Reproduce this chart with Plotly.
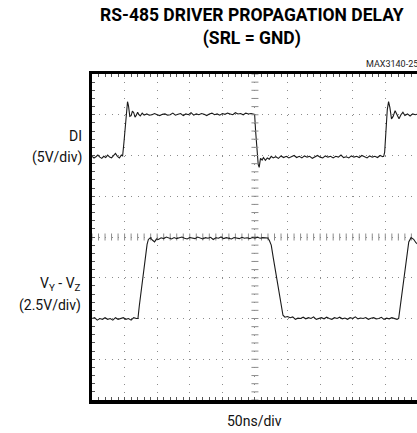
import numpy as np
import plotly.graph_objects as go

# ---------------- data ----------------
TIME_PER_DIV_NS = 50
DI_V_PER_DIV = 5.0
VYZ_V_PER_DIV = 2.5

DI_TIME_NS = [
    0, 3, 6, 9, 12, 15, 18, 21, 24, 27,
    30, 33, 36, 39, 42, 45, 47, 49, 51, 53,
    54.5, 56, 58, 60, 62, 64, 66, 68, 70, 72,
    74, 77, 80, 84, 88, 92, 96, 100, 104, 108,
    112, 116, 120, 124, 128, 132, 136, 140, 144, 148,
    152, 156, 160, 164, 168, 172, 176, 180, 184, 188,
    192, 196, 200, 204, 208, 212, 216, 220, 224, 228,
    232, 236, 240, 244, 248, 249.5, 251, 253, 255, 256.5,
    258.5, 261, 263, 266, 269, 272, 275, 278, 282, 286,
    290, 294, 298, 302, 306, 310, 314, 318, 322, 326,
    330, 334, 338, 342, 346, 350, 354, 358, 362, 366,
    370, 374, 378, 382, 386, 390, 394, 398, 402, 406,
    410, 414, 418, 422, 426, 430, 434, 438, 442, 446,
    447.5, 449, 451, 453, 455, 457, 459.5, 462, 465, 468,
    471, 474, 477, 480, 484, 488, 492, 496, 500,
]
DI_VOLTS = [
    -0.1, -0.3, -0.15, 0.05, -0.2, -0.35, -0.1, -0.25, 0.05, -0.2,
    -0.3, 0.0, 0.25, -0.1, -0.3, 0.05, -0.05, 1.6, 3.6, 5.6,
    6.6, 6.1, 4.8, 4.9, 5.45, 5.25, 4.7, 4.95, 5.3, 5.0,
    4.85, 5.2, 4.95, 5.1, 4.95, 5.0, 5.15, 5.0, 4.9, 5.05,
    5.1, 4.95, 5.0, 5.2, 4.95, 5.05, 5.15, 4.9, 5.1, 5.0,
    5.25, 4.95, 5.1, 5.0, 5.15, 5.05, 4.9, 5.1, 5.2, 5.0,
    5.1, 4.95, 5.15, 5.05, 5.2, 5.1, 5.0, 5.25, 5.1, 5.15,
    5.0, 5.2, 5.1, 5.15, 5.1, 5.05, 3.0, 0.6, -1.1, -1.45,
    -0.35, -0.55, -0.25, -0.6, -0.3, -0.45, -0.1, -0.3, -0.15, -0.35,
    -0.05, -0.25, -0.1, -0.3, -0.15, 0.0, -0.25, -0.1, -0.3, -0.05,
    -0.2, -0.1, -0.35, -0.15, 0.0, -0.2, -0.3, -0.05, -0.2, -0.1,
    -0.3, -0.1, -0.2, 0.05, -0.25, -0.15, -0.3, -0.05, -0.2, -0.1,
    -0.25, 0.0, -0.15, -0.3, -0.05, -0.2, -0.1, -0.25, 0.0, -0.15,
    -0.1, 0.4, 3.0, 5.6, 6.6, 5.9, 4.5, 4.8, 5.5, 5.0,
    4.5, 5.0, 5.3, 4.9, 5.1, 4.85, 5.1, 5.0, 5.1,
]

VYZ_TIME_NS = [
    0, 4, 8, 12, 16, 20, 24, 28, 32, 36,
    40, 44, 48, 52, 56, 60, 64, 68, 70.5, 72.5,
    74.5, 77, 79.5, 82, 84.5, 86.5, 89.5, 93, 96, 99,
    102, 106, 110, 114, 118, 122, 126, 130, 134, 138,
    142, 146, 150, 154, 158, 162, 166, 170, 174, 178,
    182, 186, 190, 194, 198, 202, 206, 210, 214, 218,
    222, 226, 230, 234, 238, 242, 246, 250, 254, 258,
    262, 266, 269.5, 272, 275, 278, 281, 284, 287, 290,
    293, 296, 300, 304, 308, 312, 316, 320, 324, 328,
    332, 336, 340, 344, 348, 352, 356, 360, 364, 368,
    372, 376, 380, 384, 388, 392, 396, 400, 404, 408,
    412, 416, 420, 424, 428, 432, 436, 440, 444, 448,
    452, 456, 460, 464, 468, 470.5, 473, 475.5, 478, 480.5,
    483, 486, 489.5, 493.5, 497, 500,
]
VYZ_VOLTS = [
    -2.5, -2.45, -2.6, -2.5, -2.55, -2.45, -2.55, -2.5, -2.6, -2.45,
    -2.55, -2.5, -2.45, -2.55, -2.5, -2.6, -2.45, -2.5, -2.5, -1.75,
    -1.1, -0.35, 0.45, 1.35, 2.05, 2.35, 2.45, 2.3, 2.2, 2.38,
    2.35, 2.45, 2.4, 2.5, 2.42, 2.38, 2.47, 2.4, 2.45, 2.5,
    2.42, 2.38, 2.47, 2.44, 2.4, 2.5, 2.43, 2.38, 2.46, 2.42,
    2.48, 2.35, 2.45, 2.42, 2.5, 2.4, 2.46, 2.43, 2.38, 2.47,
    2.44, 2.4, 2.48, 2.42, 2.45, 2.4, 2.47, 2.43, 2.48, 2.42,
    2.46, 2.45, 2.44, 2.3, 2.0, 1.25, 0.5, -0.25, -1.0, -1.75,
    -2.3, -2.42, -2.38, -2.45, -2.4, -2.55, -2.48, -2.5, -2.42, -2.52,
    -2.45, -2.5, -2.4, -2.55, -2.48, -2.45, -2.52, -2.42, -2.5, -2.55,
    -2.45, -2.5, -2.42, -2.52, -2.47, -2.55, -2.45, -2.5, -2.4, -2.52,
    -2.47, -2.5, -2.44, -2.55, -2.48, -2.45, -2.52, -2.5, -2.43, -2.55,
    -2.48, -2.52, -2.45, -2.5, -2.55, -2.5, -1.7, -0.9, -0.37, 0.6,
    1.6, 2.2, 2.46, 2.36, 2.15, 2.05,
]

assert len(DI_TIME_NS) == len(DI_VOLTS)
assert len(VYZ_TIME_NS) == len(VYZ_VOLTS)

TITLE = "<b>RS-485 DRIVER PROPAGATION DELAY</b><br><b>(SRL = GND)</b>"
CODE = "MAX3140-25"
X_LABEL = "50ns/div"

# ---------------- figure ----------------
W, H = 417, 433
ML, MR, MT, MB = 92, 0, 74, 33
PW, PH = W - ML - MR, H - MT - MB
PX_PER_DIV_X = 32.59
X_MAX = PW / PX_PER_DIV_X * TIME_PER_DIV_NS

NARROW = "Liberation Sans Narrow, Roboto, Liberation Sans, sans-serif"
TRACE_COLOR = "#1a1a1a"
GRID_COLOR = "#8c8c8c"

fig = go.Figure()

# DI trace: 5 V/div, 0 V on the 6th division (y axis 1 range -30..10 V)
fig.add_trace(go.Scatter(x=DI_TIME_NS, y=DI_VOLTS, mode="lines",
                         line=dict(color=TRACE_COLOR, width=1.1),
                         yaxis="y", hoverinfo="skip"))
# VY-VZ trace: 2.5 V/div, 0 V on the 3rd division (y axis 2 range -7.5..12.5 V)
fig.add_trace(go.Scatter(x=VYZ_TIME_NS, y=VYZ_VOLTS, mode="lines",
                         line=dict(color=TRACE_COLOR, width=1.1),
                         yaxis="y2", hoverinfo="skip"))

# graticule centre-line minor ticks
y_center = -30 + 4 * DI_V_PER_DIV
xt = np.arange(0, 10 * TIME_PER_DIV_NS + 1, TIME_PER_DIV_NS / 5)
yt = np.arange(-30, 10 + 0.01, DI_V_PER_DIV / 5)
fig.add_trace(go.Scatter(x=xt, y=[y_center] * len(xt), mode="markers",
                         marker=dict(symbol="line-ns", size=5,
                                     line=dict(color=GRID_COLOR, width=1)),
                         hoverinfo="skip", yaxis="y"))
fig.add_trace(go.Scatter(x=[5 * TIME_PER_DIV_NS] * len(yt), y=yt, mode="markers",
                         marker=dict(symbol="line-ew", size=5,
                                     line=dict(color=GRID_COLOR, width=1)),
                         hoverinfo="skip", yaxis="y"))

fig.update_layout(
    width=W, height=H,
    margin=dict(l=ML, r=MR, t=MT, b=MB),
    paper_bgcolor="white", plot_bgcolor="white",
    showlegend=False,
    xaxis=dict(range=[0, X_MAX], dtick=TIME_PER_DIV_NS, tick0=0,
               showgrid=True, gridcolor=GRID_COLOR, gridwidth=1,
               griddash="1px,7.15px",
               showline=True, linecolor="black", linewidth=3.5,
               mirror="ticks", ticks="inside", ticklen=3, tickcolor="#555",
               minor=dict(dtick=TIME_PER_DIV_NS / 5, ticks="inside", ticklen=3,
                          tickcolor="#555", showgrid=False),
               showticklabels=False, zeroline=False, fixedrange=True),
    yaxis=dict(range=[-30, 10], dtick=DI_V_PER_DIV, tick0=0,
               showgrid=True, gridcolor=GRID_COLOR, gridwidth=1,
               griddash="1px,5.52px",
               showline=True, linecolor="black", linewidth=3.5,
               mirror=False, ticks="inside", ticklen=3, tickcolor="#555",
               minor=dict(dtick=DI_V_PER_DIV / 5, ticks="inside", ticklen=3,
                          tickcolor="#555", showgrid=False),
               showticklabels=False, zeroline=False, fixedrange=True),
    yaxis2=dict(range=[-7.5, 12.5], overlaying="y", visible=False,
                showgrid=False, zeroline=False, fixedrange=True),
)


def px_x(px):
    return (px - ML) / PW


def px_y(py):
    return (H - MB - py) / PH


ann = [
    dict(text=TITLE, x=px_x(252), y=px_y(27), xanchor="center", yanchor="middle",
         font=dict(family=NARROW, size=17.5, color="black"), align="center"),
    dict(text=CODE, x=px_x(364), y=px_y(64), xanchor="left", yanchor="middle",
         font=dict(family=NARROW, size=9, color="#222")),
    dict(text="DI", x=px_x(84), y=px_y(136), xanchor="right", yanchor="middle",
         font=dict(family=NARROW, size=14, color="#111")),
    dict(text="(5V/div)", x=px_x(84), y=px_y(157), xanchor="right", yanchor="middle",
         font=dict(family=NARROW, size=14, color="#111")),
    dict(text="V<sub>Y</sub> - V<sub>Z</sub>", x=px_x(83), y=px_y(284),
         xanchor="right", yanchor="middle",
         font=dict(family=NARROW, size=14, color="#111")),
    dict(text="(2.5V/div)", x=px_x(83), y=px_y(305), xanchor="right", yanchor="middle",
         font=dict(family=NARROW, size=14, color="#111")),
    dict(text=X_LABEL, x=px_x(255), y=px_y(421), xanchor="center", yanchor="middle",
         font=dict(family=NARROW, size=14, color="#111")),
]
for a in ann:
    a.update(xref="paper", yref="paper", showarrow=False)
fig.update_layout(annotations=ann)

fig.write_html(
    "out.html",
    config={"displayModeBar": False, "staticPlot": True},
    post_script="document.body.style.margin='0px';document.body.style.overflow='hidden';",
)
